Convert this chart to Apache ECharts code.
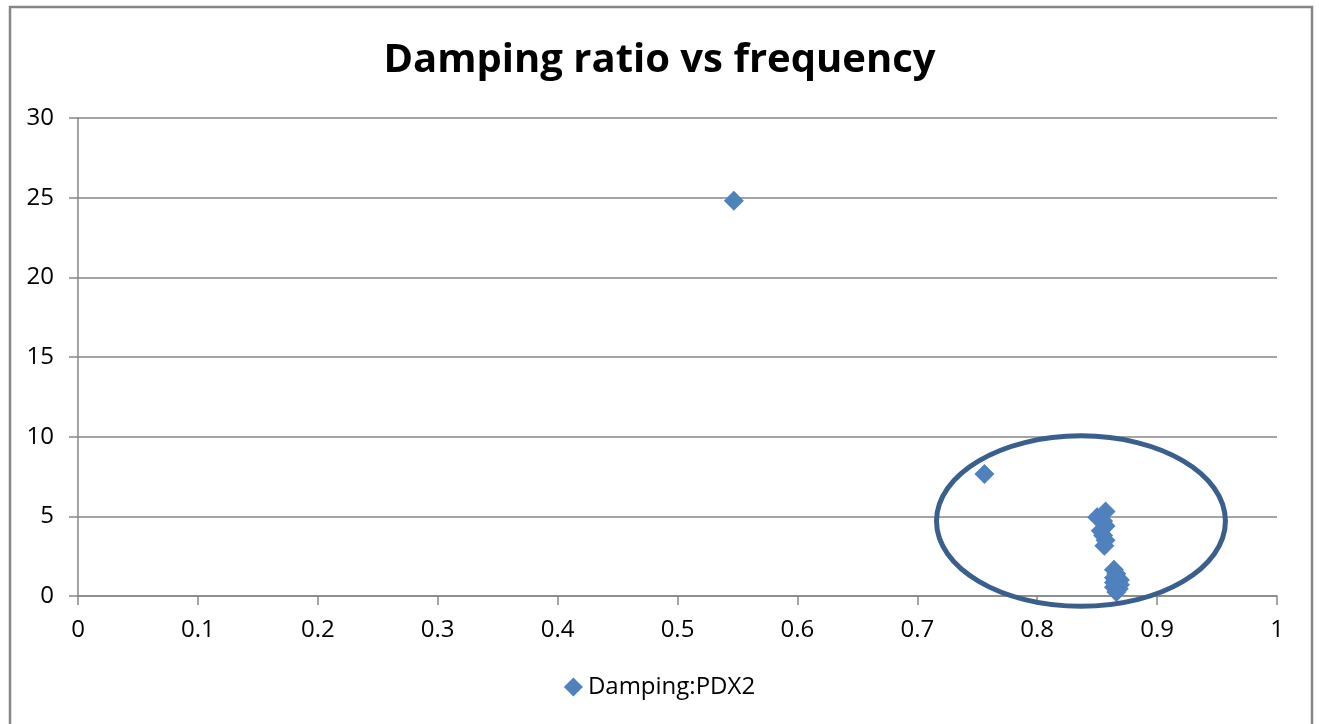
<!DOCTYPE html>
<html><head><meta charset="utf-8">
<script src="https://cdn.jsdelivr.net/npm/echarts@6/dist/echarts.min.js"></script>
<style>html,body{margin:0;padding:0;background:#fff}#c{width:1319px;height:724px}</style>
</head><body><div id="c"></div>
<script>
const seriesName = 'Damping:PDX2';
const freq = [0.547, 0.756, 0.857, 0.850, 0.855, 0.857, 0.853, 0.855, 0.857, 0.856, 0.864, 0.866, 0.864, 0.869, 0.864, 0.869, 0.864, 0.868, 0.866];
const damping = [24.8, 7.66, 5.3, 4.95, 4.7, 4.4, 4.1, 3.8, 3.5, 3.15, 1.65, 1.4, 1.15, 1.0, 0.85, 0.7, 0.55, 0.45, 0.25];
const xTicks = [0, 0.1, 0.2, 0.3, 0.4, 0.5, 0.6, 0.7, 0.8, 0.9, 1];
const yTicks = [0, 5, 10, 15, 20, 25, 30];
const ellipseCenter = [0.8365, 4.7];
const ellipseRadius = [0.1205, 5.35];

const FONT = '"Open Sans"';
const chart = echarts.init(document.getElementById('c'));
const option = {
  animation: false,
  backgroundColor: '#fff',
  title: {
    text: 'Damping ratio vs frequency', left: 'center', top: 36,
    textStyle: { fontFamily: FONT, fontSize: 40, fontWeight: 'bold', color: '#000' }
  },
  legend: {
    bottom: 20, left: 'center', itemWidth: 19, itemHeight: 19, itemGap: 4,
    textStyle: { fontFamily: FONT, fontSize: 24, color: '#000' },
    data: [{ name: seriesName, icon: 'diamond' }]
  },
  grid: { left: 78, right: 42, top: 118, bottom: 128 },
  xAxis: {
    type: 'value', min: xTicks[0], max: xTicks[xTicks.length - 1], interval: 0.1,
    axisLine: { show: true, lineStyle: { color: '#868686', width: 1.5 } },
    axisTick: { show: true, length: 9, lineStyle: { color: '#868686', width: 1.5 } },
    splitLine: { show: false },
    axisLabel: { fontFamily: FONT, fontSize: 24, color: '#000', margin: 22,
      formatter: v => String(Math.round(v * 10) / 10) }
  },
  yAxis: {
    type: 'value', min: yTicks[0], max: yTicks[yTicks.length - 1], interval: 5,
    axisLine: { show: true, lineStyle: { color: '#868686', width: 1.5 } },
    axisTick: { show: true, length: 9, lineStyle: { color: '#868686', width: 1.5 } },
    splitLine: { show: true, lineStyle: { color: '#868686', width: 1.5 } },
    axisLabel: { fontFamily: FONT, fontSize: 24, color: '#000', margin: 24 }
  },
  series: [{
    name: seriesName, type: 'scatter', symbol: 'diamond', symbolSize: 20,
    itemStyle: { color: '#4f81bd', opacity: 1 },
    data: freq.map((f, i) => [f, damping[i]])
  }]
};
chart.setOption(option);
const c = chart.convertToPixel({ gridIndex: 0 }, ellipseCenter);
const e = chart.convertToPixel({ gridIndex: 0 }, [ellipseCenter[0] + ellipseRadius[0], ellipseCenter[1] + ellipseRadius[1]]);
chart.setOption({
  graphic: [
    { type: 'rect', shape: { x: 10, y: 7, width: 1302, height: 740 }, style: { fill: 'none', stroke: '#868686', lineWidth: 2.5 }, z: 0, silent: true },
    { type: 'ellipse', shape: { cx: c[0], cy: c[1], rx: e[0] - c[0], ry: c[1] - e[1] }, style: { fill: 'none', stroke: '#3a5f8d', lineWidth: 5 }, z: 100 }
  ]
});
</script></body></html>
